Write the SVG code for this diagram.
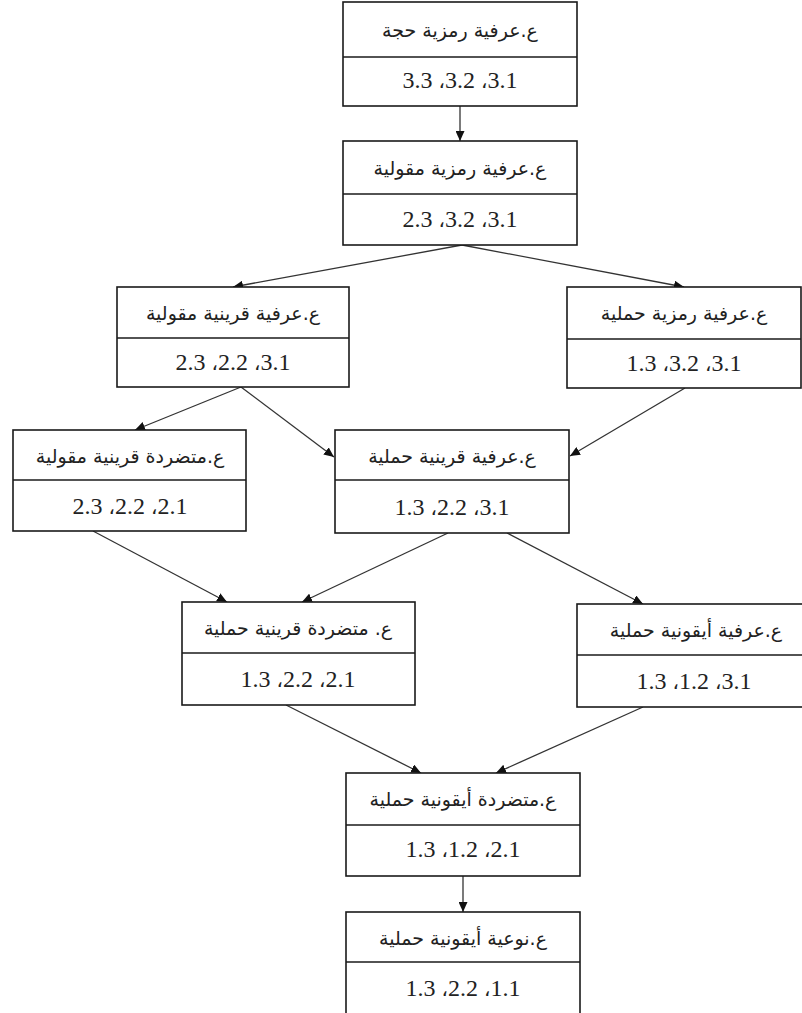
<svg xmlns="http://www.w3.org/2000/svg" width="802" height="1013" viewBox="0 0 802 1013">
<style>
.box{fill:#fff;stroke:#1a1a1a;stroke-width:1.6}
.div{stroke:#1a1a1a;stroke-width:1.6}
.lbl{font-family:"DejaVu Sans","Liberation Serif",serif;font-size:19px;fill:#222;text-anchor:middle}
.num{font-family:"Liberation Serif",serif;font-size:24px;fill:#222;text-anchor:middle}
.cm{font-family:"DejaVu Sans",sans-serif;font-size:20px}
.con line{stroke:#333;stroke-width:1.3;marker-end:url(#ah)}
</style>
<defs>
<marker id="ah" markerUnits="userSpaceOnUse" markerWidth="10" markerHeight="9" refX="10" refY="4.5" orient="auto" viewBox="0 0 10 9">
<path d="M0,0 L10,4.5 L0,9 z" fill="#111"/>
</marker>
</defs>
<rect width="802" height="1013" fill="#fff"/>
<g id="connectors" class="con">
<line x1="460" y1="106" x2="460" y2="141"/>
<line x1="462" y1="245" x2="233" y2="287"/>
<line x1="462" y1="245" x2="684" y2="287"/>
<line x1="241" y1="387" x2="135" y2="430"/>
<line x1="241" y1="387" x2="334" y2="457"/>
<line x1="685" y1="388" x2="570" y2="456"/>
<line x1="93" y1="531" x2="227" y2="602"/>
<line x1="448" y1="533" x2="302" y2="602"/>
<line x1="507" y1="533" x2="643" y2="604"/>
<line x1="286" y1="705" x2="421" y2="773"/>
<line x1="643" y1="707" x2="496" y2="773"/>
<line x1="463" y1="876" x2="463" y2="912"/>
</g>
<g id="n1">
<rect class="box" x="343" y="2" width="234" height="104"/>
<line class="div" x1="343" y1="57" x2="577" y2="57"/>
<text class="lbl" x="460" y="37" direction="rtl">ع.عرفية رمزية حجة</text>
<text class="num" x="460" y="88">3.3 <tspan class="cm">،</tspan>3.2 <tspan class="cm">،</tspan>3.1</text>
</g>
<g id="n2">
<rect class="box" x="343" y="141" width="234" height="104"/>
<line class="div" x1="343" y1="194" x2="577" y2="194"/>
<text class="lbl" x="460" y="175" direction="rtl">ع.عرفية رمزية مقولية</text>
<text class="num" x="460" y="227">2.3 <tspan class="cm">،</tspan>3.2 <tspan class="cm">،</tspan>3.1</text>
</g>
<g id="n3">
<rect class="box" x="117" y="287" width="232" height="100"/>
<line class="div" x1="117" y1="338" x2="349" y2="338"/>
<text class="lbl" x="233" y="320" direction="rtl">ع.عرفية قرينية مقولية</text>
<text class="num" x="233" y="370">2.3 <tspan class="cm">،</tspan>2.2 <tspan class="cm">،</tspan>3.1</text>
</g>
<g id="n4">
<rect class="box" x="567" y="287" width="234" height="101"/>
<line class="div" x1="567" y1="339" x2="801" y2="339"/>
<text class="lbl" x="684" y="320" direction="rtl">ع.عرفية رمزية حملية</text>
<text class="num" x="684" y="371">1.3 <tspan class="cm">،</tspan>3.2 <tspan class="cm">،</tspan>3.1</text>
</g>
<g id="n5">
<rect class="box" x="13" y="430" width="233" height="101"/>
<line class="div" x1="13" y1="480" x2="246" y2="480"/>
<text class="lbl" x="130" y="463" direction="rtl">ع.متضردة قرينية مقولية</text>
<text class="num" x="130" y="514">2.3 <tspan class="cm">،</tspan>2.2 <tspan class="cm">،</tspan>2.1</text>
</g>
<g id="n6">
<rect class="box" x="335" y="430" width="234" height="103"/>
<line class="div" x1="335" y1="480" x2="569" y2="480"/>
<text class="lbl" x="452" y="463" direction="rtl">ع.عرفية قرينية حملية</text>
<text class="num" x="452" y="515">1.3 <tspan class="cm">،</tspan>2.2 <tspan class="cm">،</tspan>3.1</text>
</g>
<g id="n7">
<rect class="box" x="182" y="602" width="233" height="103"/>
<line class="div" x1="182" y1="653" x2="415" y2="653"/>
<text class="lbl" x="298" y="635" direction="rtl">ع. متضردة قرينية حملية</text>
<text class="num" x="298" y="687">1.3 <tspan class="cm">،</tspan>2.2 <tspan class="cm">،</tspan>2.1</text>
</g>
<g id="n8">
<rect class="box" x="577" y="604" width="234" height="103"/>
<line class="div" x1="577" y1="655" x2="811" y2="655"/>
<text class="lbl" x="696" y="637" direction="rtl">ع.عرفية أيقونية حملية</text>
<text class="num" x="694" y="689">1.3 <tspan class="cm">،</tspan>1.2 <tspan class="cm">،</tspan>3.1</text>
</g>
<g id="n9">
<rect class="box" x="346" y="773" width="234" height="103"/>
<line class="div" x1="346" y1="825" x2="580" y2="825"/>
<text class="lbl" x="463" y="806" direction="rtl">ع.متضردة أيقونية حملية</text>
<text class="num" x="463" y="857">1.3 <tspan class="cm">،</tspan>1.2 <tspan class="cm">،</tspan>2.1</text>
</g>
<g id="n10">
<rect class="box" x="346" y="912" width="234" height="120"/>
<line class="div" x1="346" y1="962" x2="580" y2="962"/>
<text class="lbl" x="463" y="945" direction="rtl">ع.نوعية أيقونية حملية</text>
<text class="num" x="463" y="996">1.3 <tspan class="cm">،</tspan>2.2 <tspan class="cm">،</tspan>1.1</text>
</g>
</svg>
